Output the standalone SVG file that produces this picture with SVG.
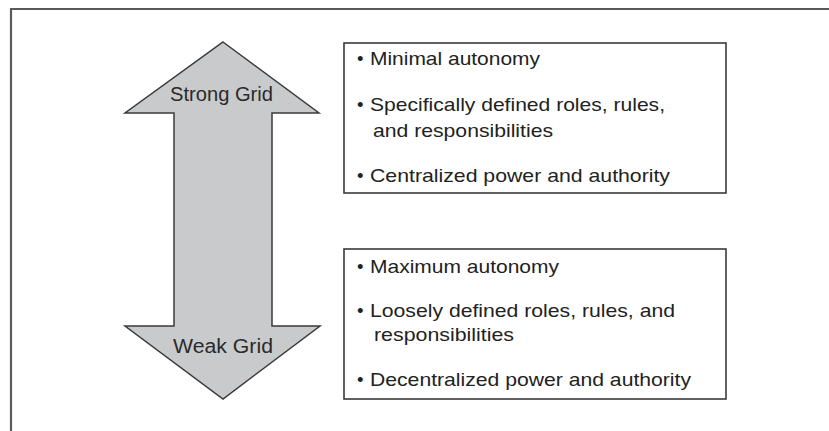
<svg xmlns="http://www.w3.org/2000/svg" width="829" height="431" viewBox="0 0 829 431">
  <style>
    .frame { fill: none; stroke: #5a5a5a; stroke-width: 2.2; }
    .arrow { fill: #c9cacc; stroke: #3a3a3a; stroke-width: 1.5; stroke-linejoin: miter; }
    .box { fill: #ffffff; stroke: #3a3a3a; stroke-width: 1.6; }
    .label { font-family: "Liberation Sans", Arial, sans-serif; font-size: 20px; fill: #2a2a2a; }
    .item { font-family: "Liberation Sans", Arial, sans-serif; font-size: 18.5px; fill: #222222; }
  </style>

  <!-- outer frame, open to the right and bottom -->
  <path class="frame" d="M 11 431 L 11 9 L 829 9"/>

  <!-- double-headed grid arrow -->
  <g id="grid-arrow">
    <path class="arrow" d="M 223 42 L 319 113 L 272 113 L 272 326 L 320 326 L 223 399 L 125 326 L 174 326 L 174 113 L 125 113 Z"/>
    <text class="label" x="170" y="101" textLength="103" lengthAdjust="spacingAndGlyphs">Strong Grid</text>
    <text class="label" x="173" y="353" textLength="100" lengthAdjust="spacingAndGlyphs">Weak Grid</text>
  </g>

  <!-- strong grid characteristics -->
  <g id="strong-box">
    <rect class="box" x="344" y="43" width="382" height="150"/>
    <text class="item" x="357" y="65">•</text>
    <text class="item" x="370" y="65" textLength="170" lengthAdjust="spacingAndGlyphs">Minimal autonomy</text>
    <text class="item" x="357" y="111">•</text>
    <text class="item" x="370" y="111" textLength="295" lengthAdjust="spacingAndGlyphs">Specifically defined roles, rules,</text>
    <text class="item" x="373" y="137" textLength="180" lengthAdjust="spacingAndGlyphs">and responsibilities</text>
    <text class="item" x="357" y="182">•</text>
    <text class="item" x="370" y="182" textLength="300" lengthAdjust="spacingAndGlyphs">Centralized power and authority</text>
  </g>

  <!-- weak grid characteristics -->
  <g id="weak-box">
    <rect class="box" x="344" y="249" width="382" height="150"/>
    <text class="item" x="357" y="273">•</text>
    <text class="item" x="370" y="273" textLength="189" lengthAdjust="spacingAndGlyphs">Maximum autonomy</text>
    <text class="item" x="357" y="317">•</text>
    <text class="item" x="370" y="317" textLength="305" lengthAdjust="spacingAndGlyphs">Loosely defined roles, rules, and</text>
    <text class="item" x="374" y="341" textLength="140" lengthAdjust="spacingAndGlyphs">responsibilities</text>
    <text class="item" x="357" y="386">•</text>
    <text class="item" x="370" y="386" textLength="321" lengthAdjust="spacingAndGlyphs">Decentralized power and authority</text>
  </g>
</svg>
